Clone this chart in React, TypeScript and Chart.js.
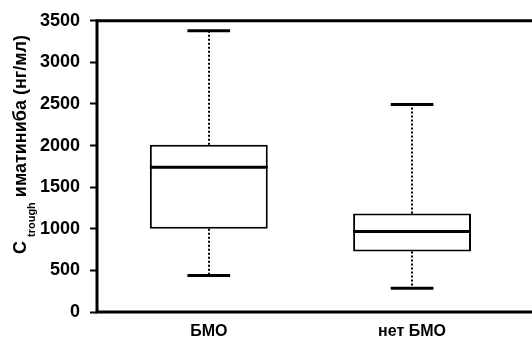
import React, { useEffect, useRef } from 'react';
import { Chart, registerables } from 'chart.js';

Chart.register(...registerables);

const categories = ['БМО', 'нет БМО'];
const whiskerLow = [440, 285];
const quartile1 = [1000, 728];
const medians = [1740, 968];
const quartile3 = [2010, 1185];
const whiskerHigh = [3380, 2495];
const yTicks = [0, 500, 1000, 1500, 2000, 2500, 3000, 3500];

const titleMain = 'C';
const titleSub = 'trough';
const titleRest = ' иматиниба (нг/мл)';

const FONT = '"Liberation Sans", Arial, sans-serif';

const boxPlugin = {
  id: 'boxExtras',
  beforeDatasetsDraw(chart: any) {
    const { ctx, scales } = chart;
    const x = scales.x;
    const y = scales.y;
    ctx.save();
    ctx.strokeStyle = '#000';
    ctx.lineWidth = 2;
    ctx.setLineDash([2, 2]);
    categories.forEach((_, i) => {
      const cx = Math.round(x.getPixelForValue(i + 1));
      ctx.beginPath();
      ctx.moveTo(cx, y.getPixelForValue(quartile3[i]));
      ctx.lineTo(cx, y.getPixelForValue(whiskerHigh[i]));
      ctx.moveTo(cx, y.getPixelForValue(quartile1[i]));
      ctx.lineTo(cx, y.getPixelForValue(whiskerLow[i]));
      ctx.stroke();
    });
    ctx.restore();
  },
  afterDatasetsDraw(chart: any) {
    const { ctx, scales, chartArea } = chart;
    const x = scales.x;
    const y = scales.y;
    const meta = chart.getDatasetMeta(0);
    ctx.save();
    ctx.strokeStyle = '#000';
    ctx.setLineDash([]);
    categories.forEach((_, i) => {
      const cx = x.getPixelForValue(i + 1);
      const capHalf = x.getPixelForValue(i + 1 + 0.105) - cx;
      ctx.lineWidth = 3;
      ctx.beginPath();
      ctx.moveTo(cx - capHalf, y.getPixelForValue(whiskerHigh[i]));
      ctx.lineTo(cx + capHalf, y.getPixelForValue(whiskerHigh[i]));
      ctx.moveTo(cx - capHalf, y.getPixelForValue(whiskerLow[i]));
      ctx.lineTo(cx + capHalf, y.getPixelForValue(whiskerLow[i]));
      ctx.stroke();
      const bar = meta.data[i];
      const half = bar.width / 2;
      ctx.beginPath();
      ctx.moveTo(bar.x - half, y.getPixelForValue(medians[i]));
      ctx.lineTo(bar.x + half, y.getPixelForValue(medians[i]));
      ctx.stroke();
    });
    ctx.lineWidth = 3;
    ctx.beginPath();
    ctx.moveTo(chartArea.right, chartArea.top);
    ctx.lineTo(chartArea.left, chartArea.top);
    ctx.lineTo(chartArea.left, chartArea.bottom);
    ctx.lineTo(chartArea.right, chartArea.bottom);
    ctx.stroke();
    ctx.restore();
  },
  afterDraw(chart: any) {
    const ctx = chart.ctx;
    ctx.save();
    ctx.translate(0, 254);
    ctx.rotate(-Math.PI / 2);
    ctx.fillStyle = '#000';
    ctx.textBaseline = 'alphabetic';
    ctx.textAlign = 'left';
    let pos = 0;
    ctx.font = `bold 18px ${FONT}`;
    ctx.fillText(titleMain, pos, 26);
    pos += ctx.measureText(titleMain).width + 4;
    ctx.font = `bold 11px ${FONT}`;
    ctx.fillText(titleSub, pos, 35);
    pos += ctx.measureText(titleSub).width;
    ctx.font = `bold 18px ${FONT}`;
    ctx.fillText(titleRest, pos, 26);
    ctx.restore();
  },
};

export default function App() {
  const ref = useRef<HTMLCanvasElement>(null);
  useEffect(() => {
    if (!ref.current) return;
    const chart = new Chart(ref.current, {
      type: 'bar',
      data: {
        datasets: [
          {
            data: categories.map((_, i) => ({ x: i + 1, y: [quartile1[i], quartile3[i]] })) as any,
            backgroundColor: '#fff',
            borderColor: '#000',
            borderWidth: 2,
            borderSkipped: false,
            barPercentage: 0.58,
            categoryPercentage: 1,
          },
        ],
      },
      options: {
        animation: false,
        responsive: false,
        layout: { padding: { top: 20.5, left: 0, right: 0, bottom: 0 } },
        plugins: { legend: { display: false }, tooltip: { enabled: false } },
        scales: {
          x: {
            type: 'linear',
            offset: false,
            min: 0.45,
            max: 2.59,
            afterBuildTicks: (s: any) => {
              s.ticks = categories.map((_, i) => ({ value: i + 1 }));
            },
            afterFit: (s: any) => {
              s.height = 26;
            },
            grid: { display: false },
            border: { display: false },
            ticks: {
              autoSkip: false,
              maxRotation: 0,
              padding: 2,
              color: '#000',
              font: { family: FONT, weight: 'bold', size: 16 },
              callback: (_v: any, idx: number) => categories[idx],
            },
          },
          y: {
            min: 0,
            max: 3500,
            afterBuildTicks: (s: any) => {
              s.ticks = yTicks.map((v) => ({ value: v }));
            },
            afterFit: (s: any) => {
              s.width = 97;
            },
            grid: {
              display: true,
              drawOnChartArea: false,
              drawTicks: true,
              tickLength: 7,
              tickWidth: 2,
              tickColor: '#000',
            },
            border: { display: false },
            ticks: {
              padding: 10,
              color: '#000',
              font: { family: FONT, weight: 'bold', size: 18 },
              callback: (v: any) => String(v),
            },
          },
        },
      } as any,
      plugins: [boxPlugin],
    });
    return () => chart.destroy();
  }, []);
  return (
    <div style={{ position: 'absolute', left: 0, top: 0, width: 532, height: 338, background: '#fff' }}>
      <canvas ref={ref} width={532} height={338} style={{ display: 'block' }} />
    </div>
  );
}
